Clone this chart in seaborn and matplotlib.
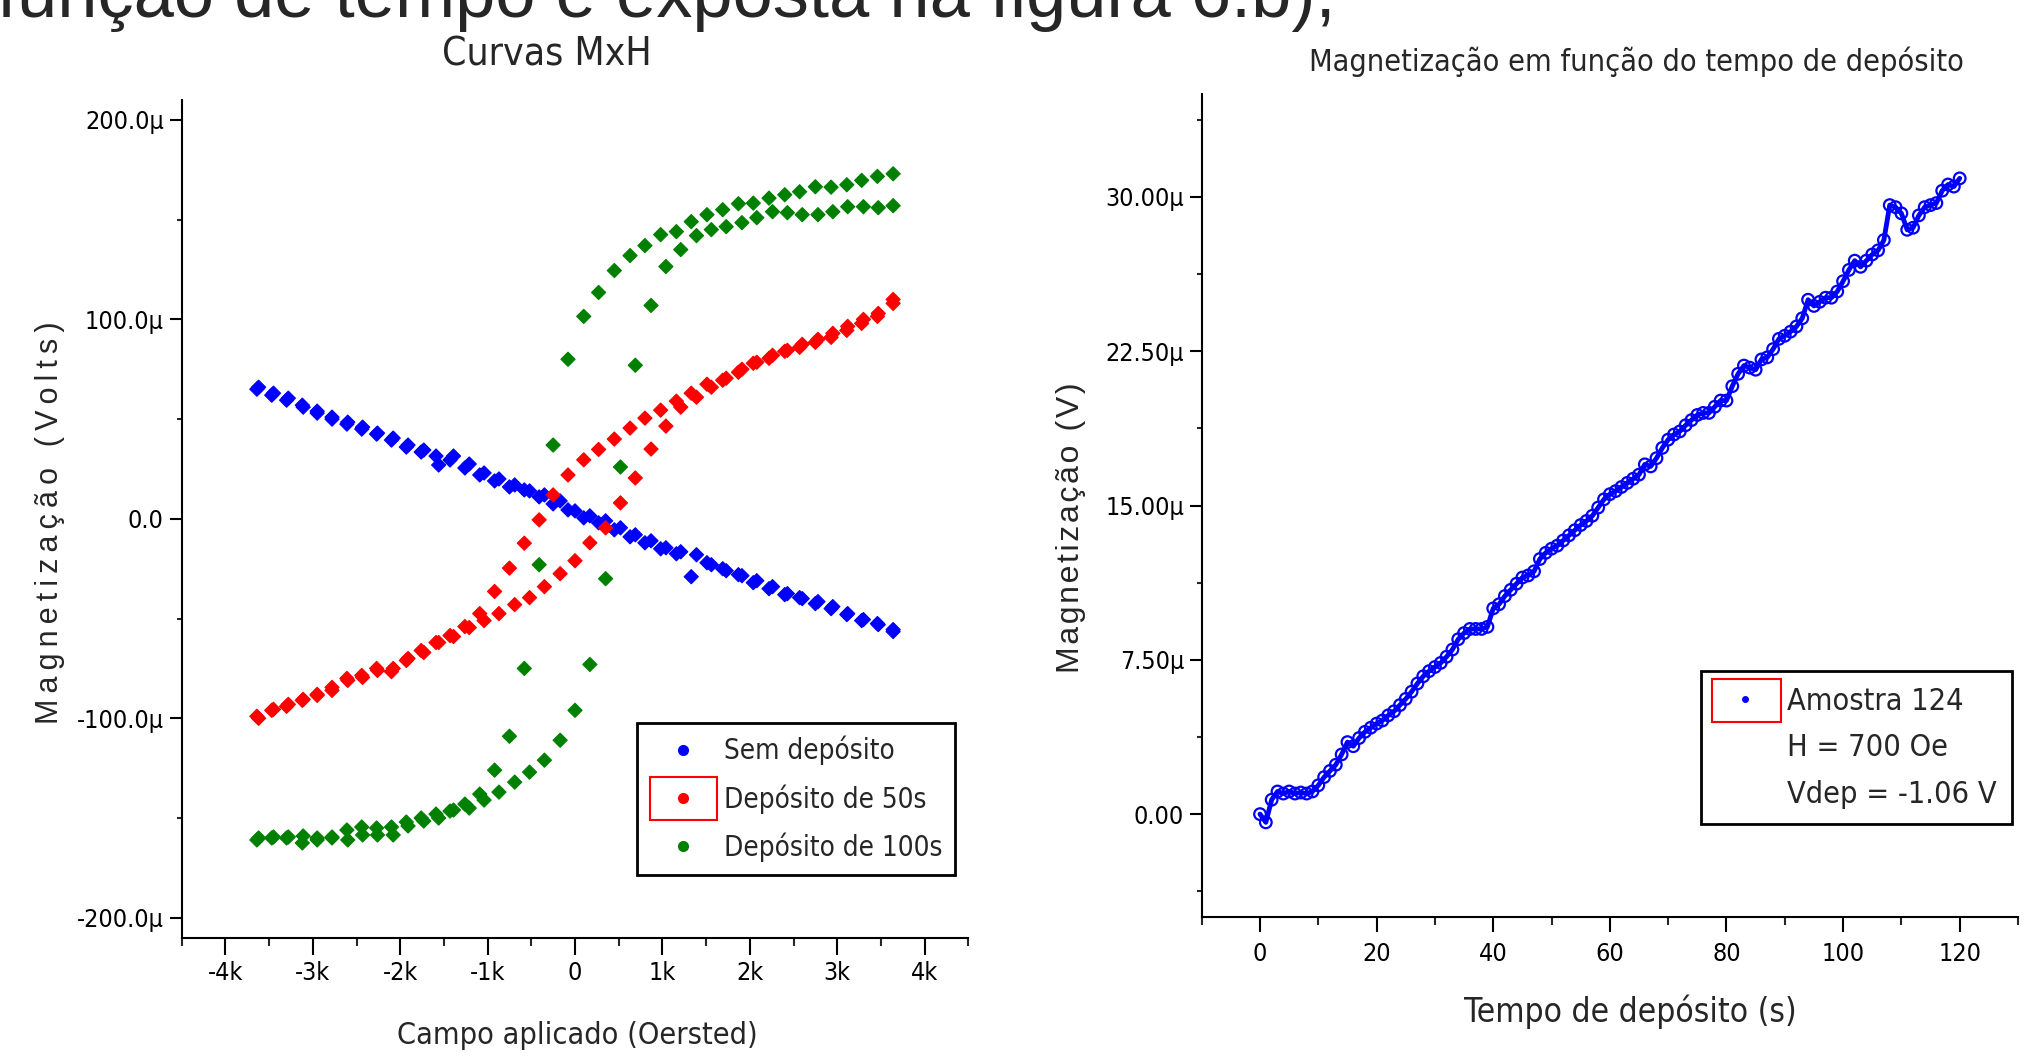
import matplotlib
matplotlib.use('Agg')
import numpy as np
import pandas as pd
import seaborn as sns
import matplotlib.pyplot as plt
from matplotlib import font_manager
from matplotlib.lines import Line2D
from matplotlib.patches import Rectangle

# campo aplicado em kOe (ramo de subida e ramo de descida)
campo_subida = [-3.64, -3.47, -3.30, -3.12, -2.95, -2.78, -2.60, -2.43, -2.26, -2.08,
                -1.91, -1.73, -1.56, -1.39, -1.21, -1.04, -0.87, -0.69, -0.52, -0.35,
                -0.17, 0.00, 0.17, 0.35, 0.52, 0.69, 0.87, 1.04, 1.21, 1.39,
                1.56, 1.73, 1.91, 2.08, 2.26, 2.43, 2.60, 2.78, 2.95, 3.12,
                3.30, 3.47, 3.64]
campo_descida = [-3.62, -3.45, -3.28, -3.11, -2.95, -2.78, -2.61, -2.44, -2.27, -2.10,
                 -1.93, -1.76, -1.59, -1.43, -1.26, -1.09, -0.92, -0.75, -0.58, -0.41,
                 -0.25, -0.08, 0.10, 0.27, 0.45, 0.63, 0.80, 0.98, 1.16, 1.33,
                 1.51, 1.69, 1.87, 2.04, 2.22, 2.40, 2.57, 2.75, 2.93, 3.11,
                 3.28, 3.46, 3.64]

# magnetizacao em microvolts
sem_dep_subida = [65, 62, 59.5, 57, 54, 51, 48.5, 46, 43, 40.5,
                  37, 34.5, 27, 31.5, 27.5, 23, 20, 17, 14, 12,
                  9, 4, 1.5, -1, -4.5, -8, -11, -14.5, -16.5, -18,
                  -23, -26, -28.5, -31, -34, -37.5, -40, -41.5, -44, -47.5,
                  -50.5, -53, -55.5]
sem_dep_descida = [66, 63, 60.5, 56, 53, 50, 47.5, 45, 42.5, 39.5,
                   36, 33.5, 31.5, 29.5, 25.5, 22, 19, 16, 14.5, 11,
                   7.5, 4.5, 0.5, -2, -5.5, -9, -12, -15, -17.5, -29,
                   -22, -25, -28, -32, -35, -38, -39.5, -42.5, -45, -48,
                   -51, -52.5, -56.5]
dep50_subida = [-99, -96, -94, -91, -88.5, -86, -81, -79.5, -76, -75,
                -70, -67, -62, -59, -54.5, -51, -47.5, -43, -39.5, -34,
                -27.5, -21, -12, -4.5, 8, 20.5, 35, 46.5, 56, 61,
                66, 70.5, 75, 78.5, 82, 84.5, 87.5, 90, 93, 96.5,
                100, 103, 108]
dep50_descida = [-100, -95.5, -93, -90.5, -88, -84.5, -80, -78.5, -75, -76.6,
                 -71, -66, -62, -58.5, -54, -47.5, -36.4, -24.7, -12.2, -0.5,
                 12, 22, 29.6, 34.8, 40, 45.5, 50.5, 54.5, 59, 63,
                 67.5, 69.5, 73.5, 78, 80.5, 84, 86, 88.5, 91, 94.5,
                 98, 101.5, 110]
dep100_subida = [-161, -160, -160, -162.5, -161, -159.5, -161, -158.5, -158.5, -158.5,
                 -154, -151.5, -150, -146, -145, -141, -137, -132, -127, -121,
                 -111, -96, -73, -30, 26, 77, 107, 126.5, 135, 142,
                 145, 146.5, 148.5, 151, 154, 153.5, 152.5, 152.5, 154, 156.5,
                 156.5, 156, 157]
dep100_descida = [-160, -159.5, -159.5, -159, -160, -160, -156, -154.5, -155, -154.5,
                  -152, -150, -148, -146.5, -143, -138, -126, -109, -75, -23,
                  37, 80, 101.5, 113.5, 124.5, 132, 137, 142.5, 144, 149,
                  152.5, 155, 158, 158.3, 160.8, 162.5, 164, 166.5, 166.3, 167.5,
                  169.7, 171.7, 173]

# Amostra 124: magnetizacao (microvolts) a cada segundo de deposito
tempo_s = list(range(0, 121))
magnet_t = [0.0, -0.4, 0.7, 1.1, 1.0, 1.1, 1.0, 1.05, 1.0, 1.1,
            1.4, 1.8, 2.1, 2.4, 2.9, 3.5, 3.3, 3.7, 4.0, 4.2,
            4.4, 4.55, 4.8, 5.0, 5.3, 5.6, 5.95, 6.35, 6.7, 6.95,
            7.15, 7.35, 7.65, 8.0, 8.5, 8.8, 9.0, 9.0, 9.0, 9.1,
            10.0, 10.2, 10.6, 10.9, 11.2, 11.5, 11.6, 11.8, 12.4, 12.7,
            12.9, 13.05, 13.3, 13.55, 13.8, 14.05, 14.25, 14.5, 14.9, 15.3,
            15.55, 15.7, 15.9, 16.1, 16.3, 16.5, 17.0, 16.9, 17.3, 17.8,
            18.2, 18.45, 18.6, 18.9, 19.15, 19.4, 19.5, 19.5, 19.8, 20.1,
            20.1, 20.8, 21.4, 21.8, 21.7, 21.6, 22.1, 22.2, 22.6, 23.1,
            23.25, 23.45, 23.7, 24.1, 25.0, 24.7, 24.9, 25.1, 25.1, 25.4,
            25.9, 26.45, 26.9, 26.6, 26.9, 27.2, 27.4, 27.9, 29.6, 29.5,
            29.2, 28.4, 28.5, 29.1, 29.5, 29.6, 29.7, 30.3, 30.6, 30.5, 30.9]

amostras = ['Sem depósito', 'Depósito de 50s', 'Depósito de 100s']
cores = {'Sem depósito': '#0000ff', 'Depósito de 50s': '#ff0000', 'Depósito de 100s': '#008000'}

x_ticks_mxh = [-4, -3, -2, -1, 0, 1, 2, 3, 4]
x_labels_mxh = ['-4k', '-3k', '-2k', '-1k', '0', '1k', '2k', '3k', '4k']
y_ticks_mxh = [-200, -100, 0, 100, 200]
y_labels_mxh = ['-200.0µ', '-100.0µ', '0.0', '100.0µ', '200.0µ']
x_ticks_t = [0, 20, 40, 60, 80, 100, 120]
y_ticks_t = [0, 7.5, 15, 22.5, 30]
y_labels_t = ['0.00', '7.50µ', '15.00µ', '22.50µ', '30.00µ']
legenda_t = ['Amostra 124', 'H = 700 Oe', 'Vdep = -1.06 V']

# tabela longa para o seaborn
partes = []
for nome, sub, desc in zip(amostras,
                           [sem_dep_subida, dep50_subida, dep100_subida],
                           [sem_dep_descida, dep50_descida, dep100_descida]):
    partes.append(pd.DataFrame({'campo': campo_subida, 'M': sub, 'amostra': nome}))
    partes.append(pd.DataFrame({'campo': campo_descida, 'M': desc, 'amostra': nome}))
df = pd.concat(partes, ignore_index=True)
df_t = pd.DataFrame({'t': tempo_s, 'M': magnet_t})

# fontes: procura uma fonte estreita (tipo Arial Narrow do Origin)
sns.set_style('ticks')
fontes = font_manager.fontManager.ttflist
nomes = {f.name for f in fontes}
estreita, esticar = 'DejaVu Sans', 'normal'
if 'Liberation Sans Narrow' in nomes:
    estreita = 'Liberation Sans Narrow'
else:
    for f in fontes:
        if f.stretch in ('condensed', 'semi-condensed', 'extra-condensed') and f.style == 'normal':
            estreita, esticar = f.name, f.stretch
            if f.name == 'DejaVu Sans':
                break
plt.rcParams['font.family'] = [estreita, 'DejaVu Sans']
plt.rcParams['font.stretch'] = esticar
larga = ['Liberation Sans', 'DejaVu Sans']

W, H = 2043, 1056
fig = plt.figure(figsize=(W / 100, H / 100), dpi=100)

def caixa(x0, y0, x1, y1):
    # pixels (topo-esquerda) -> fracao da figura
    return [x0 / W, 1 - y1 / H, (x1 - x0) / W, (y1 - y0) / H]

ax1 = fig.add_axes(caixa(181.7, 100, 968.3, 937.7))
ax2 = fig.add_axes(caixa(1201.7, 94, 2018, 917))

# --- Curvas MxH ---
sns.scatterplot(data=df, x='campo', y='M', hue='amostra', hue_order=amostras,
                palette=cores, marker='D', s=52, edgecolor='face', linewidth=0.8,
                legend=False, ax=ax1)
ax1.set_xlim(-4.5, 4.5)
ax1.set_ylim(-210, 210)
ax1.set_xticks(x_ticks_mxh, labels=x_labels_mxh)
ax1.set_xticks(np.arange(-4.5, 4.6, 1.0), minor=True)
ax1.set_yticks(y_ticks_mxh, labels=y_labels_mxh)
ax1.set_yticks([-150, -50, 50, 150], minor=True)
ax1.tick_params(axis='x', which='major', length=12, width=1.5, pad=5, labelsize=18)
ax1.tick_params(axis='x', which='minor', length=5.5, width=1.5)
ax1.tick_params(axis='y', which='major', length=9, width=1.5, pad=4, labelsize=18)
ax1.tick_params(axis='y', which='minor', length=3.6, width=1.5)
ax1.set_xlabel('Campo aplicado (Oersted)', fontsize=22, va='center')
ax1.xaxis.set_label_coords(0.5026, -0.117)
ylab1 = '\u2009'.join('Magnetização (Volts)')
ax1.set_ylabel(ylab1, fontsize=22, family=larga, stretch='normal', va='center', ha='center')
ax1.yaxis.set_label_coords(-0.167, 0.495)

mao = [Line2D([], [], ls='none', marker='o', ms=7, color=cores[n]) for n in amostras]
leg1 = ax1.legend(mao, amostras, loc='upper left',
                  bbox_to_anchor=(636.7 / W, 1 - 723.3 / H), bbox_transform=fig.transFigure,
                  fontsize=20, frameon=True, fancybox=False, edgecolor='black', framealpha=1,
                  borderpad=0.45, handlelength=2.45, handletextpad=0.25, labelspacing=0.68,
                  borderaxespad=0)
leg1.get_frame().set_linewidth(2)

# --- Magnetizacao em funcao do tempo ---
sns.lineplot(data=df_t, x='t', y='M', color='#0000ff', linewidth=3.5, ax=ax2)
sns.scatterplot(data=df_t, x='t', y='M', marker='o', s=70, color='#0000ff',
                facecolor='none', edgecolor='#0000ff', linewidth=1.6, legend=False, ax=ax2)
ax2.set_xlim(-10, 130)
ax2.set_ylim(-5, 35)
ax2.set_xticks(x_ticks_t)
ax2.set_xticks(np.arange(-10, 131, 20), minor=True)
ax2.set_yticks(y_ticks_t, labels=y_labels_t)
ax2.set_yticks([-3.75, 3.75, 11.25, 18.75, 26.25, 33.75], minor=True)
ax2.tick_params(axis='x', which='major', length=11, width=1.5, pad=7, labelsize=18)
ax2.tick_params(axis='x', which='minor', length=5.8, width=1.5)
ax2.tick_params(axis='y', which='major', length=8.7, width=1.5, pad=4, labelsize=18)
ax2.tick_params(axis='y', which='minor', length=3.9, width=1.5)
ax2.set_xlabel('Tempo de depósito (s)', fontsize=24, va='center')
ax2.xaxis.set_label_coords(0.525, -0.115)
ylab2 = '\u200a'.join('Magnetização (V)')
ax2.set_ylabel(ylab2, fontsize=23, family=larga, stretch='normal', va='center', ha='center')
ax2.yaxis.set_label_coords(-0.16, 0.473)

mao2 = [Line2D([], [], ls='none', marker='o', ms=4, color='#0000ff'),
        Line2D([], [], ls='none'), Line2D([], [], ls='none')]
leg2 = ax2.legend(mao2, legenda_t, loc='upper left',
                  bbox_to_anchor=(1700.7 / W, 1 - 671.4 / H), bbox_transform=fig.transFigure,
                  fontsize=22, frameon=True, fancybox=False, edgecolor='black', framealpha=1,
                  borderpad=0.5, handlelength=1.9, handletextpad=0.42, labelspacing=0.58,
                  borderaxespad=0)
leg2.get_frame().set_linewidth(2)

for ax in (ax1, ax2):
    sns.despine(ax=ax)
    for lado in ('left', 'bottom'):
        ax.spines[lado].set_linewidth(1.5)
        ax.spines[lado].set_color('black')
    ax.tick_params(colors='black')

# retangulos vermelhos de selecao da legenda (do Origin)
fig.add_artist(Rectangle((650 / W, 1 - 820 / H), 66.7 / W, 43.3 / H, transform=fig.transFigure,
                         fill=False, edgecolor='red', linewidth=1.5, zorder=10))
fig.add_artist(Rectangle((1712 / W, 1 - 722 / H), 69 / W, 43.5 / H, transform=fig.transFigure,
                         fill=False, edgecolor='red', linewidth=1.5, zorder=10))

# titulos
fig.text(547 / W, 1 - 54 / H, 'Curvas MxH', ha='center', va='center', fontsize=28)
fig.text(1636 / W, 1 - 62 / H, 'Magnetização em função do tempo de depósito',
         ha='center', va='center', fontsize=22)

# linha do texto do documento, cortada no topo
fig.text(-3 / W, 1 - 17 / H, 'função de tempo é exposta na figura 6.b),',
         ha='left', va='baseline', fontsize=52, family=larga, stretch='normal')

fig.savefig('out.png', dpi=100)
